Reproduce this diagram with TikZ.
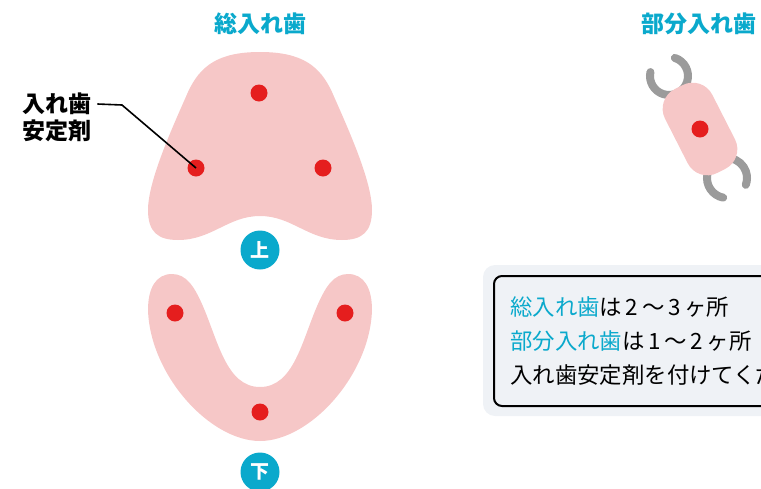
\documentclass[tikz,border=0pt]{standalone}
\usepackage{fontspec}
\setmainfont{Noto Sans CJK JP}
\usetikzlibrary{positioning}
\definecolor{jcyan}{HTML}{0AA9CC}
\definecolor{gumpink}{HTML}{F6C7C7}
\definecolor{dotred}{HTML}{E51E1E}
\definecolor{claspgray}{HTML}{9B9B9B}
\definecolor{notebg}{HTML}{EFF2F6}
\tikzset{spot/.style = {shape=circle,fill=dotred,minimum size=17pt,inner sep=0pt}}
\tikzset{badge/.style = {shape=circle,fill=jcyan,minimum size=39pt,inner sep=0pt,text=white,font=\bfseries\fontsize{19}{19}\selectfont}}
\tikzset{heading/.style = {text=jcyan,inner sep=0pt,font=\bfseries\fontsize{23}{23}\selectfont}}
\tikzset{callout/.style = {anchor=west,inner sep=0pt,font=\bfseries\fontsize{23}{23}\selectfont}}
\tikzset{noteline/.style = {anchor=west,inner sep=0pt,font=\fontsize{22.4}{22.4}\selectfont}}
\tikzset{clasp/.style = {draw=claspgray,line width=8pt,line cap=round}}
\tikzset{leader/.style = {draw=black,line width=1.6pt}}

\begin{document}
\begin{tikzpicture}[x=1pt,y=-1pt]
\clip (0,0) rectangle (761,488);

% headings
\node[heading] (full) at (260,24) {総入れ歯};
\node[heading] (part) at (699,24) {部分入れ歯};

% upper plate
\fill[gumpink] (260,52) .. controls (218,52) and (200,66) .. (188,92)
  .. controls (174,124) and (148,180) .. (148,210)
  .. controls (148,232) and (158,240) .. (178,240)
  .. controls (212,240) and (228,216) .. (260,216)
  .. controls (292,216) and (308,240) .. (342,240)
  .. controls (362,240) and (372,232) .. (372,210)
  .. controls (372,180) and (346,124) .. (332,92)
  .. controls (320,66) and (302,52) .. (260,52) -- cycle;

% lower plate
\fill[gumpink] (172,274) .. controls (186,274) and (194,286) .. (202,304)
  .. controls (218,340) and (226,387) .. (260,387)
  .. controls (294,387) and (302,340) .. (318,304)
  .. controls (326,286) and (334,274) .. (348,274)
  .. controls (364,274) and (372,288) .. (372,310)
  .. controls (370,375) and (310,441) .. (260,441)
  .. controls (210,441) and (150,375) .. (148,310)
  .. controls (148,288) and (156,274) .. (172,274) -- cycle;

% adhesive spots
\node[spot] (u1) at (259,93) {};
\node[spot] (u2) at (196,168) {};
\node[spot] (u3) at (323,168) {};
\node[spot] (d1) at (175,313) {};
\node[spot] (d2) at (345,313) {};
\node[spot] (d3) at (260,412) {};

% upper / lower marks
\node[badge] (up) at (260,250) {上};
\node[badge] (down) at (260,472) {下};

% callout
\node[callout] (lblA) at (22,104) {入れ歯};
\node[callout] (lblB) at (22,131) {安定剤};
\coordinate (bend) at (122,105);
\draw[leader] ([xshift=6pt]lblA.east) -- (bend) -- (u2.center);

% partial denture
\draw[clasp] (669,76) ++(-72:19) arc (-72:192:19);
\draw[clasp] (727,178) ++(101:20) arc (101:380:20);
\node[shape=rectangle,rounded corners=22pt,fill=gumpink,minimum width=53pt,minimum height=94pt,rotate=27] (plate) at (700,129) {};
\node[spot] (p1) at (700,129) {};

% note box
\fill[notebg,rounded corners=12pt] (483,265) rectangle (800,416);
\draw[line width=2pt,fill=notebg,rounded corners=8pt] (494,276) rectangle (810,406);
\node[noteline] (n1) at (510,307) {\textcolor{jcyan}{総入れ歯}は\,2\,～\,3\,ヶ所};
\node[noteline] (n2) at (510,341) {\textcolor{jcyan}{部分入れ歯}は\,1\,～\,2\,ヶ所};
\node[noteline] (n3) at (510,375) {入れ歯安定剤を付けてください};
\end{tikzpicture}
\end{document}
